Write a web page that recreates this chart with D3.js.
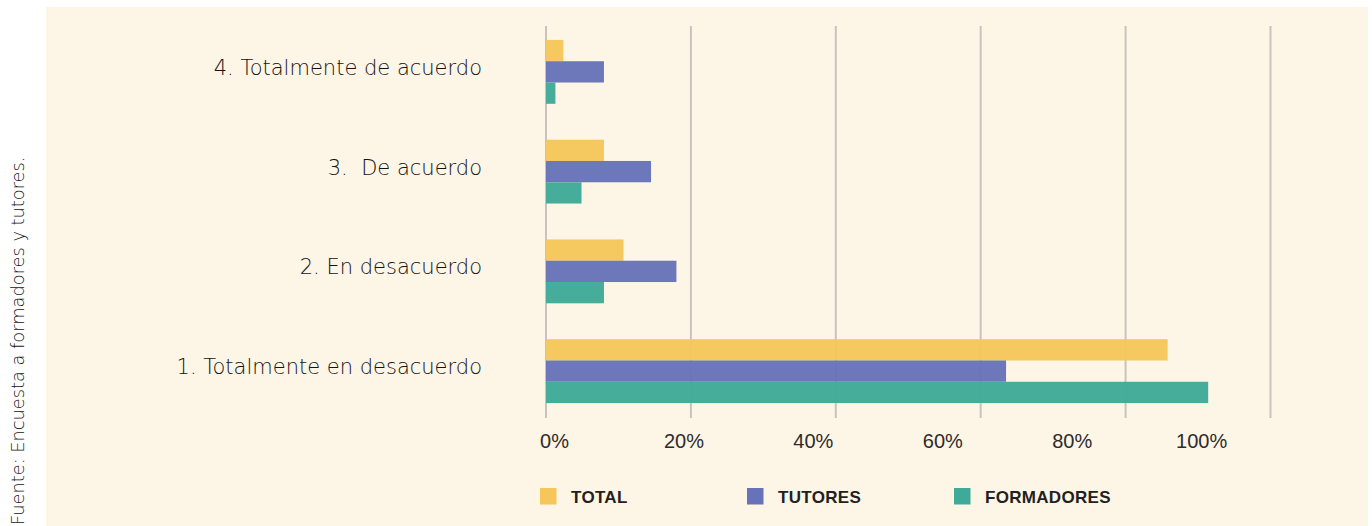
<!DOCTYPE html>
<meta charset="utf-8">
<style>
    body { margin: 0; background: #fff; }
    .cat { font: 300 21px "DejaVu Sans", sans-serif; fill: #141212; text-anchor: end; white-space: pre; }
    .tick-label { font: 20px "Liberation Sans", sans-serif; fill: #2e2b2b; text-anchor: middle; }
    .legend-label { font: bold 17px "Liberation Sans", sans-serif; fill: #231f20; letter-spacing: 0.3px; }
    .source { font: 300 17.8px "DejaVu Sans", sans-serif; fill: #141212; }
</style>
<svg width="1372" height="526"></svg>
<script src="https://d3js.org/d3.v7.min.js"></script>
<script>

    // categories top to bottom
    var categories = ["4. Totalmente de acuerdo", "3.  De acuerdo", "2. En desacuerdo", "1. Totalmente en desacuerdo"];
    var series = ["TOTAL", "TUTORES", "FORMADORES"];
    var colors = ["#f6c65b", "#6673b8", "#40aa98"];

    // percentages, same order as categories
    var total = [2.4, 8.0, 10.7, 85.8];
    var tutores = [8.0, 14.5, 18.0, 63.5];
    var formadores = [1.3, 4.9, 8.0, 91.4];

    var tickValues = [0, 20, 40, 60, 80, 100];
    var tickLabels = ["0%", "20%", "40%", "60%", "80%", "100%"];
    var source = "Fuente: Encuesta a formadores y tutores.";

    var values = [total, tutores, formadores];

    var svg = d3.select("svg");

    // cream panel
    svg.append("rect")
        .attr("x", 46).attr("y", 7)
        .attr("width", 1322).attr("height", 519)
        .attr("fill", "#fdf5e6");

    var x = d3.scaleLinear().domain([0, 100]).range([546, 1270.5]);

    var y = d3.scaleBand()
        .domain(categories)
        .range([22, 421])
        .paddingInner(0.36)
        .paddingOuter(0.18);

    var ySub = d3.scaleBand()
        .domain(series)
        .range([0, y.bandwidth()]);

    var labelX = d3.scalePoint()
        .domain(tickLabels)
        .range([554.5, 1201.7]);

    var legendX = d3.scalePoint()
        .domain(series)
        .range([540, 954]);

    // gridlines
    svg.append("g")
        .selectAll("line")
        .data(tickValues)
        .enter().append("line")
        .attr("x1", function (d) { return x(d); })
        .attr("x2", function (d) { return x(d); })
        .attr("y1", 26)
        .attr("y2", 418)
        .attr("stroke", "#c8c4bd")
        .attr("stroke-width", 2);

    // bars
    var rows = [];
    categories.forEach(function (c, i) {
        series.forEach(function (s, j) {
            rows.push({ cat: c, series: s, value: values[j][i], color: colors[j] });
        });
    });

    svg.append("g")
        .selectAll("rect")
        .data(rows)
        .enter().append("rect")
        .attr("x", x(0))
        .attr("y", function (d) { return y(d.cat) + ySub(d.series); })
        .attr("width", function (d) { return x(d.value) - x(0); })
        .attr("height", ySub.bandwidth())
        .attr("fill", function (d) { return d.color; })
        .attr("fill-opacity", 0.96);

    // category labels
    svg.append("g")
        .selectAll("text")
        .data(categories)
        .enter().append("text")
        .attr("class", "cat")
        .attr("x", 482)
        .attr("y", function (d) { return y(d) + y.bandwidth() / 2 + 3; })
        .text(function (d) { return d; });

    // axis labels
    svg.append("g")
        .selectAll("text")
        .data(tickLabels)
        .enter().append("text")
        .attr("class", "tick-label")
        .attr("x", function (d) { return labelX(d); })
        .attr("y", 448)
        .text(function (d) { return d; });

    // legend
    var legend = svg.append("g")
        .selectAll("g")
        .data(series)
        .enter().append("g")
        .attr("transform", function (d) { return "translate(" + legendX(d) + ",488)"; });

    legend.append("rect")
        .attr("width", 16.5)
        .attr("height", 16.5)
        .attr("fill", function (d, i) { return colors[i]; });

    legend.append("text")
        .attr("class", "legend-label")
        .attr("x", 31)
        .attr("y", 14.5)
        .text(function (d) { return d; });

    // source, rotated on the left
    svg.append("text")
        .attr("class", "source")
        .attr("transform", "translate(24,525) rotate(-90)")
        .text(source);

</script>
